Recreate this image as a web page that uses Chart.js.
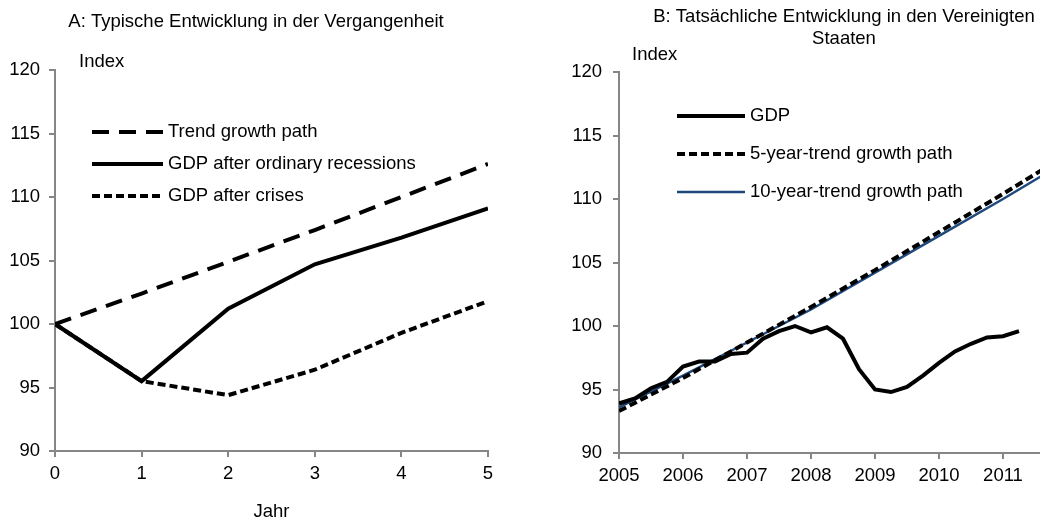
<!DOCTYPE html>
<html lang="de">
<head>
<meta charset="utf-8">
<title>BIP nach Rezessionen und Krisen</title>
<script src="https://cdn.jsdelivr.net/npm/chart.js@4.4.1/dist/chart.umd.min.js"></script>
<style>
    html, body { margin: 0; padding: 0; background: #fff; overflow: hidden; }
    #wrap { position: relative; width: 1040px; height: 517px; overflow: hidden; }
    #chartA { position: absolute; left: 0; top: 0; }
    #chartB { position: absolute; left: 520px; top: 0; }
</style>
</head>
<body>
<div id="wrap">
    <canvas id="chartA" width="512" height="530"></canvas>
    <canvas id="chartB" width="648" height="517"></canvas>
</div>
<script>
// Panel A : typische Entwicklung
const jahre = [0, 1, 2, 3, 4, 5];
const trendPath = [100, 102.4, 104.9, 107.4, 110.0, 112.6];
const gdpRecessions = [100, 95.5, 101.2, 104.7, 106.8, 109.1];
const gdpCrises = [100, 95.5, 94.4, 96.4, 99.3, 101.8];

// Panel B : Vereinigte Staaten (Quartale)
const quartale = [2005, 2005.25, 2005.5, 2005.75, 2006, 2006.25, 2006.5, 2006.75,
    2007, 2007.25, 2007.5, 2007.75, 2008, 2008.25, 2008.5, 2008.75,
    2009, 2009.25, 2009.5, 2009.75, 2010, 2010.25, 2010.5, 2010.75, 2011, 2011.25];
const gdpUS = [93.9, 94.3, 95.1, 95.6, 96.8, 97.2, 97.2, 97.8,
    97.9, 99.0, 99.6, 100.0, 99.5, 99.9, 99.0, 96.6,
    95.0, 94.8, 95.2, 96.1, 97.1, 98.0, 98.6, 99.1, 99.2, 99.6];
const trendJahre = [2005, 2006, 2007, 2008, 2009, 2010, 2011, 2012];
const trend5 = [93.3, 95.9, 98.7, 101.5, 104.4, 107.4, 110.4, 113.5];
const trend10 = [93.6, 96.1, 98.7, 101.3, 104.2, 107.1, 110.0, 113.0];

const FONT_SIZE = 18.5;
const FONT = FONT_SIZE + 'px "Liberation Sans", Arial, sans-serif';
const AXIS_GREY = '#868686';
const NAVY = '#1F497D';

Chart.defaults.font.family = '"Liberation Sans", Arial, sans-serif';
Chart.defaults.font.size = FONT_SIZE;
Chart.defaults.color = '#000';

function toPoints(xs, ys) {
    return xs.map((x, i) => ({ x: x, y: ys[i] }));
}

// Titel, "Index" und Legende direkt auf die Leinwand zeichnen
function makeTextPlugin(cfg) {
    return {
        id: 'panelText',
        afterDraw(chart) {
            const ctx = chart.ctx;
            ctx.save();
            ctx.font = FONT;
            ctx.fillStyle = '#000';
            ctx.textBaseline = 'middle';
            ctx.textAlign = 'center';
            cfg.title.forEach((line, i) => ctx.fillText(line, cfg.titleX, cfg.titleY + i * 22));
            ctx.textAlign = 'left';
            ctx.fillText('Index', cfg.indexX, cfg.indexY);

            chart.data.datasets.forEach((ds, i) => {
                const y = cfg.legendY + i * cfg.legendGap;
                ctx.beginPath();
                ctx.setLineDash(ds.borderDash || []);
                ctx.lineWidth = ds.borderWidth;
                ctx.strokeStyle = ds.borderColor;
                ctx.lineCap = 'butt';
                ctx.moveTo(cfg.legendX, y);
                ctx.lineTo(cfg.legendX + cfg.sampleW, y);
                ctx.stroke();
                ctx.setLineDash([]);
                ctx.fillText(ds.label, cfg.legendX + cfg.sampleW + 5, y);
            });
            ctx.restore();
        }
    };
}

function axis(extra) {
    return Object.assign({
        type: 'linear',
        border: { color: AXIS_GREY, width: 2 },
        grid: { drawOnChartArea: false, color: AXIS_GREY, lineWidth: 2, tickLength: 6 }
    }, extra);
}

function lineSet(label, data, color, width, dash) {
    return {
        label: label,
        data: data,
        borderColor: color,
        borderWidth: width,
        borderDash: dash,
        pointRadius: 0,
        tension: 0,
        fill: false
    };
}

// Panel A
new Chart(document.getElementById('chartA'), {
    type: 'line',
    data: {
        datasets: [
            lineSet('Trend growth path', toPoints(jahre, trendPath), '#000', 4, [17, 10]),
            lineSet('GDP after ordinary recessions', toPoints(jahre, gdpRecessions), '#000', 4, []),
            lineSet('GDP after crises', toPoints(jahre, gdpCrises), '#000', 4, [8, 4])
        ]
    },
    options: {
        responsive: false,
        animation: false,
        layout: { padding: { top: 70, right: 24, left: 0, bottom: 0 } },
        plugins: { legend: { display: false }, tooltip: { enabled: false } },
        scales: {
            x: axis({
                min: 0, max: 5,
                ticks: { stepSize: 1, padding: 6 },
                title: { display: true, text: 'Jahr', padding: { top: 0, bottom: 7 } },
                afterFit: function(scale) { scale.height = 79; }
            }),
            y: axis({
                min: 90, max: 120,
                ticks: { stepSize: 5, padding: 9 },
                afterFit: function(scale) { scale.width = 55; }
            })
        }
    },
    plugins: [makeTextPlugin({
        title: ['A: Typische Entwicklung in der Vergangenheit'],
        titleX: 256, titleY: 22,
        indexX: 79, indexY: 62,
        legendX: 92, legendY: 132, legendGap: 32, sampleW: 71
    })]
});

// Panel B
new Chart(document.getElementById('chartB'), {
    type: 'line',
    data: {
        datasets: [
            lineSet('GDP', toPoints(quartale, gdpUS), '#000', 4, []),
            lineSet('5-year-trend growth path', toPoints(trendJahre, trend5), '#000', 4, [8, 4]),
            lineSet('10-year-trend growth path', toPoints(trendJahre, trend10), NAVY, 2.5, [])
        ]
    },
    options: {
        responsive: false,
        animation: false,
        layout: { padding: { top: 72, right: 101, left: 0, bottom: 0 } },
        plugins: { legend: { display: false }, tooltip: { enabled: false } },
        scales: {
            x: axis({
                min: 2005, max: 2012,
                ticks: { stepSize: 1, padding: 6, autoSkip: false, callback: v => String(v) },
                afterFit: function(scale) { scale.height = 64; }
            }),
            y: axis({
                min: 90, max: 120,
                ticks: { stepSize: 5, padding: 11 },
                afterFit: function(scale) { scale.width = 99; }
            })
        }
    },
    plugins: [makeTextPlugin({
        title: ['B: Tatsächliche Entwicklung in den Vereinigten', 'Staaten'],
        titleX: 324, titleY: 17,
        indexX: 112, indexY: 55,
        legendX: 157, legendY: 116, legendGap: 38, sampleW: 68
    })]
});
</script>
</body>
</html>
